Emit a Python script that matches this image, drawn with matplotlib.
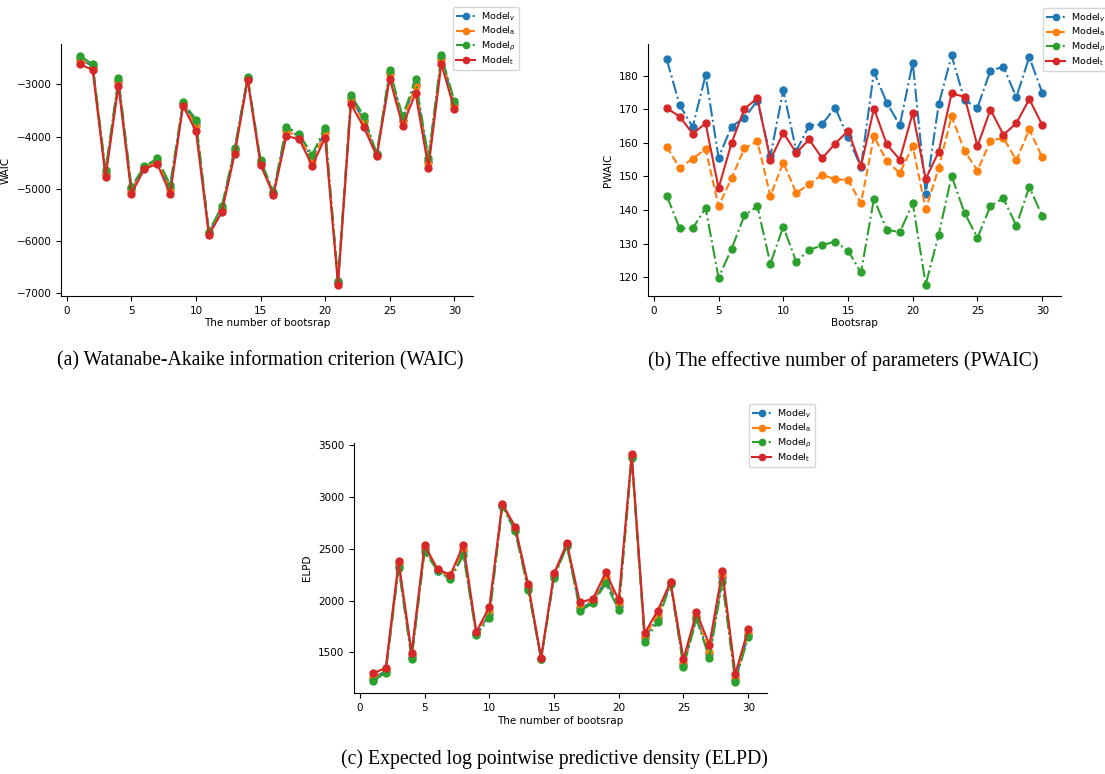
import matplotlib
matplotlib.use("Agg")
import matplotlib.pyplot as plt

x = list(range(1, 31))

labels = [r"Model$_v$", r"Model$_\mathrm{a}$", r"Model$_\rho$", r"Model$_\mathrm{t}$"]

waic_v = [-2520, -2650, -4700, -2940, -5010, -4590, -4460, -4990, -3370, -3740,
          -5840, -5380, -4260, -2880, -4490, -5080, -3870, -3990, -4420, -3900,
          -6780, -3270, -3690, -4340, -2780, -3680, -3000, -4470, -2500, -3370]
waic_a = [-2540, -2660, -4720, -2960, -5040, -4600, -4470, -5030, -3380, -3790,
          -5850, -5400, -4280, -2890, -4500, -5090, -3900, -4000, -4460, -3940,
          -6800, -3300, -3720, -4350, -2810, -3710, -3040, -4500, -2530, -3390]
waic_rho = [-2454, -2615, -4644, -2884, -4958, -4573, -4419, -4920, -3340, -3674,
            -5819, -5337, -4220, -2859, -4451, -5055, -3815, -3957, -4348, -3828,
            -6756, -3212, -3604, -4329, -2730, -3616, -2904, -4406, -2448, -3315]
waic_t = [-2615, -2724, -4779, -3026, -5093, -4624, -4522, -5100, -3411, -3899,
          -5889, -5446, -4335, -2917, -4541, -5119, -3989, -4053, -4560, -4021,
          -6833, -3385, -3822, -4380, -2891, -3796, -3173, -4599, -2608, -3475]

pwaic_v = [184.8, 171.2, 164.7, 180.1, 155.6, 164.8, 167.5, 172.5, 156.0, 175.6,
           157.6, 165.1, 165.5, 170.5, 161.6, 152.8, 181.1, 171.9, 165.2, 183.9,
           144.8, 171.4, 186.0, 172.6, 170.5, 181.5, 182.6, 173.6, 185.5, 174.9]
pwaic_a = [158.8, 152.5, 155.3, 158.1, 141.2, 149.4, 158.4, 160.5, 144.2, 154.1,
           145.1, 147.7, 150.5, 149.1, 149.0, 142.0, 161.9, 154.5, 151.0, 159.0,
           140.2, 152.4, 167.9, 157.6, 151.7, 160.6, 161.5, 154.8, 164.0, 155.7]
pwaic_rho = [144.2, 134.5, 134.5, 140.6, 119.8, 128.4, 138.4, 141.1, 124.0, 135.0,
             124.6, 128.1, 129.5, 130.6, 127.9, 121.4, 143.3, 134.1, 133.4, 142.0,
             117.8, 132.6, 150.1, 139.1, 131.7, 141.2, 143.5, 135.3, 146.9, 138.2]
pwaic_t = [170.3, 167.8, 162.7, 165.8, 146.5, 159.9, 170.1, 173.3, 154.9, 163.0,
           157.0, 161.0, 155.4, 159.7, 163.6, 153.0, 170.2, 159.5, 155.0, 168.9,
           149.2, 157.3, 174.7, 173.7, 159.0, 169.9, 162.4, 165.8, 173.0, 165.3]

elpd_v = [1245, 1320, 2335, 1455, 2495, 2290, 2215, 2475, 1675, 1870,
          2918, 2685, 2120, 1436, 2235, 2537, 1925, 1985, 2200, 1950,
          3388, 1640, 1830, 2170, 1380, 1840, 1480, 2230, 1235, 1670]
elpd_a = [1260, 1330, 2350, 1470, 2510, 2295, 2230, 2500, 1685, 1900,
          2925, 2695, 2135, 1440, 2245, 2545, 1940, 2000, 2230, 1975,
          3395, 1650, 1860, 2175, 1395, 1855, 1500, 2250, 1250, 1690]
elpd_rho = [1220, 1304, 2317, 1436, 2474, 2288, 2204, 2439, 1664, 1834,
            2912, 2670, 2105, 1432, 2223, 2529, 1902, 1973, 2166, 1908,
            3378, 1600, 1796, 2162, 1362, 1822, 1445, 2180, 1217, 1648]
elpd_t = [1297, 1349, 2381, 1497, 2539, 2304, 2249, 2539, 1699, 1937,
          2937, 2715, 2159, 1449, 2262, 2555, 1982, 2018, 2272, 2005,
          3413, 1683, 1902, 2182, 1436, 1886, 1574, 2288, 1291, 1725]

colors = ["#1f77b4", "#ff7f0e", "#2ca02c", "#d62728"]
styles = ["-.", "--", "-.", "-"]

W, H = 1105, 774
fig = plt.figure(figsize=(W / 100, H / 100), dpi=100)


def fx(px):
    return px / W


def fy(py):
    return 1 - py / H


def panel(rect_px, series, xlabel, ylabel, leg_anchor_px):
    l, t, r, b = rect_px
    ax = fig.add_axes([fx(l), fy(b), (r - l) / W, (b - t) / H])
    for s, c, ls, lab in zip(series, colors, styles, labels):
        ax.plot(x, s, color=c, linestyle=ls, marker="o", markersize=5,
                linewidth=1.5, label=lab)
    ax.spines["top"].set_visible(False)
    ax.spines["right"].set_visible(False)
    ax.tick_params(labelsize=7.5, length=3.5)
    ax.set_xlabel(xlabel, fontsize=7.5, labelpad=2)
    ax.set_ylabel(ylabel, fontsize=7.5)
    ax.set_xticks([0, 5, 10, 15, 20, 25, 30])
    ax.legend(loc="upper left", bbox_to_anchor=(fx(leg_anchor_px[0]), fy(leg_anchor_px[1])),
              bbox_transform=fig.transFigure, borderaxespad=0, fontsize=6.8,
              handlelength=2.0, labelspacing=0.22, borderpad=0.35, handletextpad=0.6,
              markerscale=0.9)
    return ax


panel((61, 44, 473, 296), [waic_v, waic_a, waic_rho, waic_t],
      "The number of bootsrap", "WAIC", (453, 7))
panel((648, 44, 1061, 296), [pwaic_v, pwaic_a, pwaic_rho, pwaic_t],
      "Bootsrap", "PWAIC", (1043, 8))
panel((354, 443, 767, 693), [elpd_v, elpd_a, elpd_rho, elpd_t],
      "The number of bootsrap", "ELPD", (749, 404))

cap_kw = dict(fontsize=14.2, family="Liberation Serif", ha="center", va="center")
fig.text(fx(260), fy(361), "(a) Watanabe-Akaike information criterion (WAIC)", **cap_kw)
fig.text(fx(843), fy(361), "(b) The effective number of parameters (PWAIC)", **cap_kw)
fig.text(fx(554), fy(759), "(c) Expected log pointwise predictive density (ELPD)", **cap_kw)

fig.savefig("out.png", dpi=100)
